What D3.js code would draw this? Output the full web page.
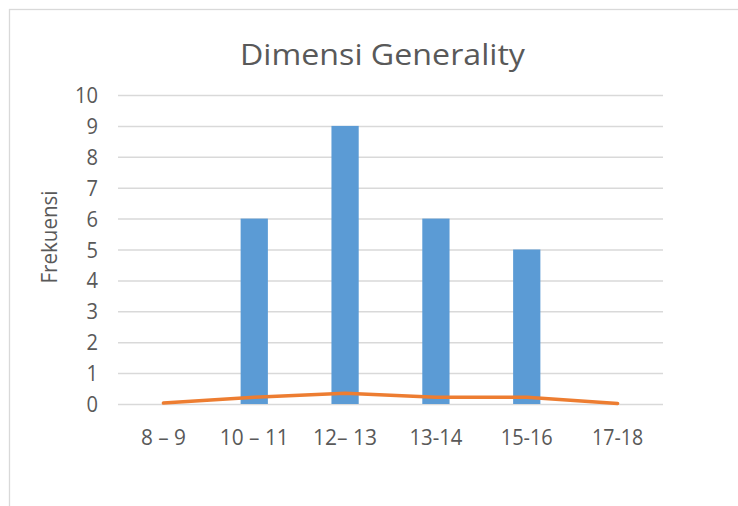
<!DOCTYPE html>
<html>
<head>
<meta charset="utf-8">
<script src="https://cdn.jsdelivr.net/npm/d3@7"></script>
<style>
  html, body { margin: 0; padding: 0; background: #fff; }
  svg { display: block; }
  text { font-family: "Open Sans", "Liberation Sans", sans-serif; fill: #595959; }
</style>
</head>
<body>
<svg id="chart" width="738" height="506"></svg>
<script>
const categories = ["8 – 9", "10 – 11", "12– 13", "13-14", "15-16", "17-18"];
const frekuensi = [0, 6, 9, 6, 5, 0];
const curve = [0.03, 0.22, 0.35, 0.22, 0.22, 0.02];
const yTicks = [0, 1, 2, 3, 4, 5, 6, 7, 8, 9, 10];
const title = "Dimensi Generality";
const yTitle = "Frekuensi";

const W = 738, H = 506;
const plot = { left: 118, right: 663, top: 95, bottom: 404 };

const svg = d3.select("#chart");

// outer chart border (extends past right/bottom edges)
svg.append("rect")
  .attr("x", 9.5).attr("y", 9.5)
  .attr("width", W + 20).attr("height", H + 20)
  .attr("fill", "#fff").attr("stroke", "#d9d9d9").attr("stroke-width", 1.3);

const x = d3.scaleBand().domain(categories).range([plot.left, plot.right]).padding(0);
const y = d3.scaleLinear().domain([0, 10]).range([plot.bottom, plot.top]);
const cx = c => x(c) + x.bandwidth() / 2;

// gridlines + y tick labels via axis
const yAxis = d3.axisLeft(y).tickValues(yTicks)
  .tickSize(-(plot.right - plot.left)).tickPadding(20).tickFormat(d3.format("d"));
const gy = svg.append("g").attr("transform", `translate(${plot.left},0)`).call(yAxis);
gy.select(".domain").remove();
gy.selectAll(".tick line").attr("stroke", "#d9d9d9").attr("stroke-width", 1.5);
gy.selectAll(".tick text")
  .attr("font-size", 21).attr("fill", "#595959").attr("dy", "0.36em")
  .attr("x", -20)
  .each(function(d) { d3.select(this).attr("textLength", d >= 10 ? 23 : 11.5).attr("lengthAdjust", "spacingAndGlyphs"); });

// bars
const barW = x.bandwidth() * 0.3;
svg.append("g").selectAll("rect").data(categories).join("rect")
  .attr("x", (c) => cx(c) - barW / 2)
  .attr("y", (c, i) => y(frekuensi[i]))
  .attr("width", barW)
  .attr("height", (c, i) => y(0) - y(frekuensi[i]))
  .attr("fill", "#5b9bd5");

// line
const line = d3.line().x((d, i) => cx(categories[i])).y(d => y(d));
svg.append("path").datum(curve)
  .attr("d", line)
  .attr("fill", "none").attr("stroke", "#ed7d31")
  .attr("stroke-width", 3.5).attr("stroke-linecap", "round").attr("stroke-linejoin", "round");

// x axis labels
const xAxis = d3.axisBottom(x).tickSize(0).tickPadding(0);
const gx = svg.append("g").attr("transform", `translate(0,${plot.bottom})`).call(xAxis);
gx.select(".domain").remove();
const labelWidths = [45, 69, 64, 53, 52, 51];
gx.selectAll(".tick text")
  .attr("font-size", 21).attr("fill", "#595959")
  .attr("y", 41).attr("dy", 0)
  .each(function(d, i) { d3.select(this).attr("textLength", labelWidths[i]).attr("lengthAdjust", "spacingAndGlyphs"); });

// title
svg.append("text")
  .attr("x", 382.5).attr("y", 65)
  .attr("text-anchor", "middle")
  .attr("font-size", 29)
  .attr("textLength", 285).attr("lengthAdjust", "spacingAndGlyphs")
  .text(title);

// y axis title
svg.append("text")
  .attr("transform", "translate(56.5,237) rotate(-90)")
  .attr("text-anchor", "middle")
  .attr("font-size", 22)
  .attr("textLength", 93).attr("lengthAdjust", "spacingAndGlyphs")
  .text(yTitle);
</script>
</body>
</html>
